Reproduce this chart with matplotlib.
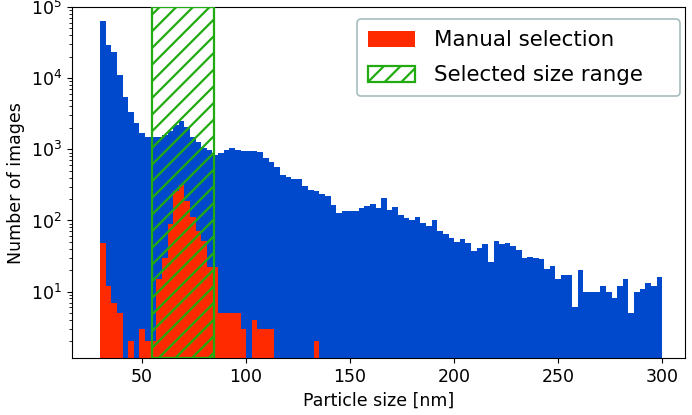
import numpy as np
import matplotlib
matplotlib.use("Agg")
import matplotlib.pyplot as plt

plt.rcParams["hatch.color"] = "#22aa11"
plt.rcParams["hatch.linewidth"] = 1.6

# histogram bins: 100 bins between 30 and 300 nm
bin_lo, bin_hi, n_bins = 30, 300, 100

# all particles (counts per bin)
all_counts = [
    62700, 29400, 23700, 11100, 5400, 3400, 2350, 1700, 1480, 1480,
    1510, 1600, 1830, 2200, 2540, 2050, 1480, 1260, 1050, 990,
    830, 900, 980, 1035, 990, 950, 940, 950, 930, 750,
    658, 560, 437, 405, 383, 383, 303, 271, 257, 236,
    219, 165, 127, 137, 137, 134, 150, 160, 171, 150,
    204, 142, 156, 119, 108, 103, 111, 92, 83, 102,
    72, 64, 56, 50, 55, 48, 37, 41, 46, 26,
    52, 47, 48, 44, 38, 30, 31, 30, 29, 21,
    23, 15, 17, 17, 6, 20, 10, 10, 10, 12,
    10, 8, 12, 15, 5, 10, 11, 13, 12, 16,
]

# manually selected particles (first 39 bins, rest empty)
manual_counts = [
    48, 12, 7, 5, 0, 2, 0, 3, 2, 2,
    15, 30, 89, 262, 319, 190, 111, 72, 52, 22,
    22, 5, 5, 5, 5, 3, 0, 4, 3, 3,
    3, 0, 0, 0, 0, 0, 0, 0, 2,
]

sel_range = (55, 84.5)

edges = np.linspace(bin_lo, bin_hi, n_bins + 1)
centers = 0.5 * (edges[:-1] + edges[1:])
manual_full = np.zeros(n_bins)
manual_full[:len(manual_counts)] = manual_counts

fig = plt.figure(figsize=(6.92, 4.15), dpi=100)
ax = fig.add_axes([0.104, 0.137, 0.886, 0.846])

ax.hist(centers, bins=edges, weights=all_counts, log=True,
        color="#0049cc", zorder=1)
ax.hist(centers, bins=edges, weights=manual_full, log=True,
        color="#ff2a00", zorder=2, label="Manual selection")
ax.axvspan(*sel_range, facecolor="none", edgecolor="#22aa11", hatch="//",
           linewidth=1.6, zorder=3, label="Selected size range")

ax.set_ylim(1.16, 1e5)
ax.set_xlim(16.5, 311)
ax.set_xticks([50, 100, 150, 200, 250, 300])
ax.tick_params(labelsize=12.5)
ax.set_xlabel("Particle size [nm]", fontsize=12.5)
ax.set_ylabel("Number of images", fontsize=12.5)

# legend box stretched to the width seen in the original
leg = ax.legend(loc="upper left", bbox_to_anchor=(0.465, 0.5, 0.527, 0.465),
                mode="expand", borderaxespad=0, fontsize=15.4, framealpha=1,
                handlelength=2.2, handleheight=0.75, borderpad=0.52,
                labelspacing=0.69, handletextpad=0.9)
leg.get_frame().set_edgecolor("#a7bcbf")
leg.get_frame().set_linewidth(1.2)

fig.savefig("out.png", dpi=100)
